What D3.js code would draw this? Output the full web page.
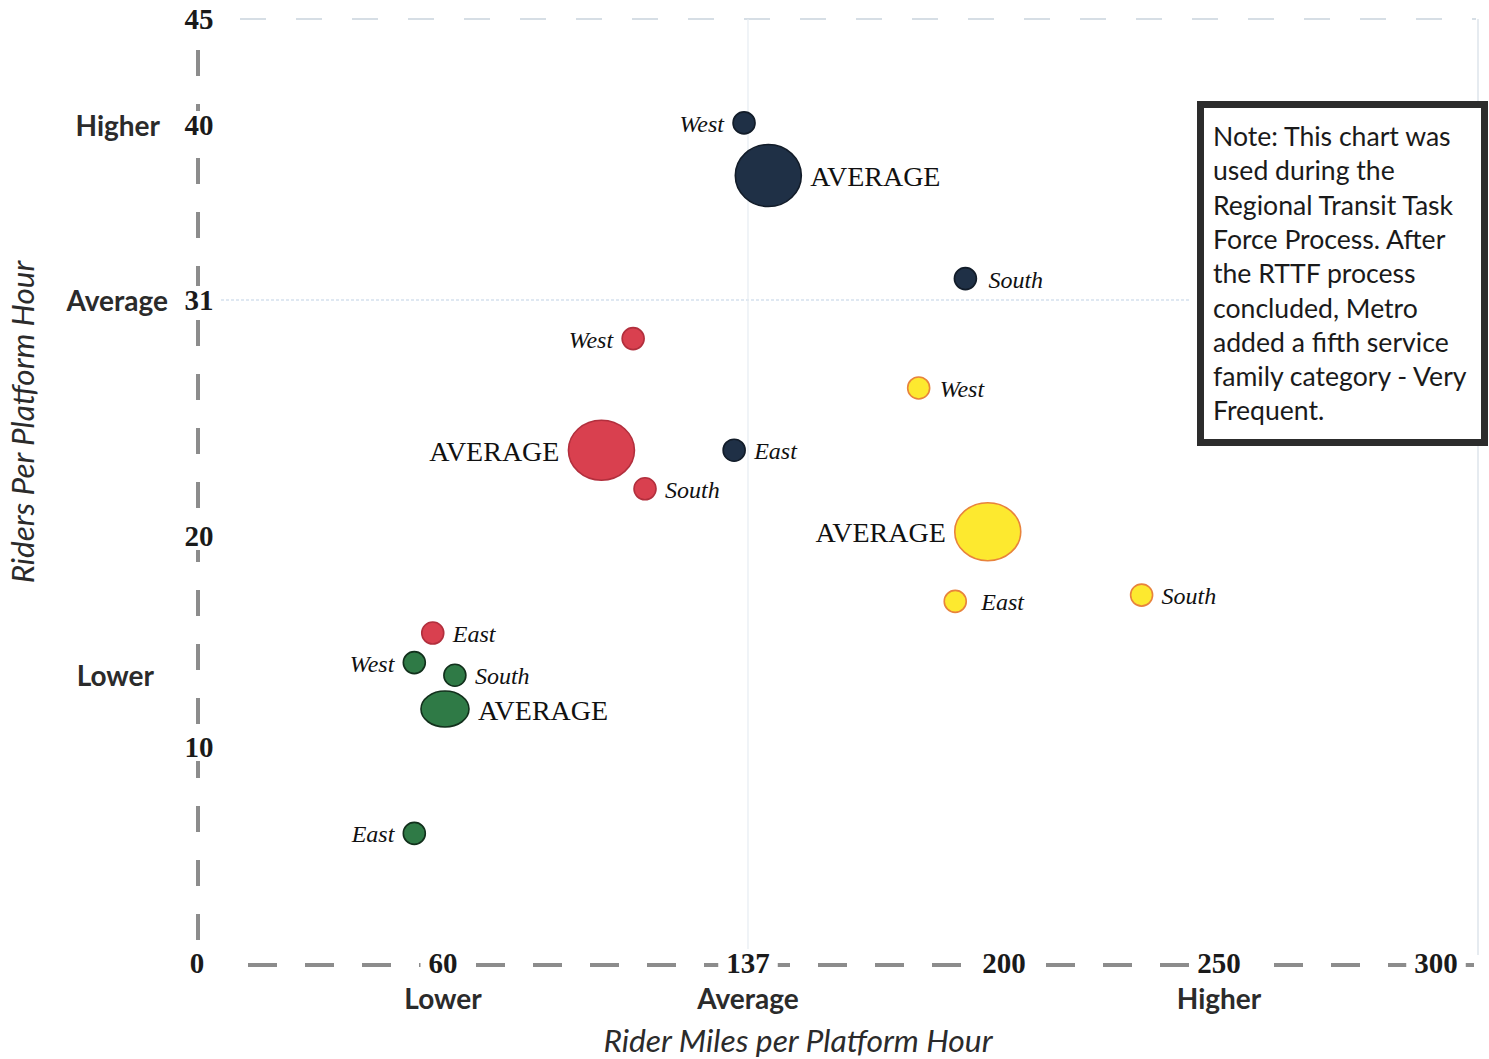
<!DOCTYPE html>
<html>
<head>
<meta charset="utf-8">
<script src="https://cdn.jsdelivr.net/npm/d3@7"></script>
<style>
  html, body { margin: 0; padding: 0; background: #fff; }
  svg { display: block; }
</style>
</head>
<body>
<svg id="chart" width="1489" height="1059"></svg>
<script>
// ---- data ----
const regions = ["West", "AVERAGE", "South", "East"];

const navyMiles   = [136, 142, 190.5, 133.5];
const navyRiders  = [40.1, 37.4, 32.1, 24.0];
const redMiles    = [108, 100, 111, 57.5];
const redRiders   = [29.2, 24.0, 22.2, 15.4];
const yellowMiles = [179, 196, 232, 188];
const yellowRiders= [26.9, 20.2, 17.2, 16.9];
const greenMiles  = [53, 60.5, 63, 53];
const greenRiders = [14.0, 11.8, 13.4, 6.0];

const xTicks = [60, 137, 200, 250, 300];
const yTicks = [45, 40, 31, 20, 10];
const originLabel = "0";
const xLevels = ["Lower", "Average", "Higher"];
const xLevelValues = [60, 137, 250];
const yLevels = ["Higher", "Average", "Lower"];
const yLevelValues = [40, 31, 13.4];

const noteLines = [
  "Note: This chart was",
  "used during the",
  "Regional Transit Task",
  "Force Process. After",
  "the RTTF process",
  "concluded, Metro",
  "added a fifth service",
  "family category - Very",
  "Frequent."
];

// ---- styles ----
const families = [
  { key: "navy",   miles: navyMiles,   riders: navyRiders,   fill: "#1f3046", stroke: "#121c29", avgR: [33, 31],
    side: { West: "L", AVERAGE: "R", South: "R", East: "R" }, extraGap: { South: 3 } },
  { key: "red",    miles: redMiles,    riders: redRiders,    fill: "#d9404f", stroke: "#b22f3d", avgR: [33, 30],
    side: { West: "L", AVERAGE: "L", South: "R", East: "R" }, extraGap: {} },
  { key: "yellow", miles: yellowMiles, riders: yellowRiders, fill: "#fde92f", stroke: "#e8833c", avgR: [33, 29],
    side: { West: "R", AVERAGE: "L", South: "R", East: "R" }, extraGap: { East: 6, West: 1 } },
  { key: "green",  miles: greenMiles,  riders: greenRiders,  fill: "#2f7a46", stroke: "#12301c", avgR: [24, 18],
    side: { West: "L", AVERAGE: "R", South: "R", East: "L" }, extraGap: {} }
];
const smallR = 11;

const svg = d3.select("#chart");

// Axes are drawn with stretched segments, so the scales are piecewise
const x = d3.scaleLinear().domain([0, 60, 137, 200, 250, 300]).range([197, 443, 748, 1004, 1219, 1436]);
const y = d3.scaleLinear().domain([0, 10, 20, 31, 40, 45]).range([963, 747, 536, 300, 125, 19]);

// ---- faint reference lines ----
const faint = svg.append("g").attr("fill", "none");
faint.append("line")
  .attr("x1", 240).attr("x2", 1476).attr("y1", y(45)).attr("y2", y(45))
  .attr("stroke", "#c9d3dd").attr("stroke-width", 1.5).attr("stroke-dasharray", "26,30");
faint.append("line")
  .attr("x1", 1478).attr("x2", 1478).attr("y1", y(45)).attr("y2", 955)
  .attr("stroke", "#d6dee6").attr("stroke-width", 1.2);
faint.append("line")
  .attr("x1", 216).attr("x2", 1190).attr("y1", y(31)).attr("y2", y(31))
  .attr("stroke", "#d5e1ee").attr("stroke-width", 1.5).attr("stroke-dasharray", "3,2");
faint.append("line")
  .attr("x1", x(137)).attr("x2", x(137)).attr("y1", y(45)).attr("y2", 950)
  .attr("stroke", "#e6ecf2").attr("stroke-width", 1.2);

// ---- dashed axes ----
svg.append("line")
  .attr("x1", 198).attr("x2", 198).attr("y1", 940).attr("y2", 32)
  .attr("stroke", "#8c8c8c").attr("stroke-width", 4).attr("stroke-dasharray", "26,28");
svg.append("line")
  .attr("x1", 248).attr("x2", 1476).attr("y1", 965).attr("y2", 965)
  .attr("stroke", "#8c8c8c").attr("stroke-width", 4).attr("stroke-dasharray", "29,28");

// tick labels with white knock-out behind them
function knockLabel(g, tx, ty, txt, pad) {
  const t = g.append("text")
    .attr("x", tx).attr("y", ty)
    .attr("text-anchor", "middle").attr("dominant-baseline", "central")
    .attr("font-family", "'Liberation Serif', 'Times New Roman', serif")
    .attr("font-weight", "bold").attr("font-size", 29).attr("fill", "#1a1a1a")
    .text(txt);
  const b = t.node().getBBox();
  g.insert("rect", "text")
    .attr("x", b.x - pad).attr("y", b.y + 2).attr("width", b.width + 2 * pad).attr("height", b.height - 4)
    .attr("fill", "#fff");
}
const tickG = svg.append("g");
yTicks.forEach(v => knockLabel(tickG, 199, y(v), String(v), 6));
xTicks.forEach(v => knockLabel(tickG, x(v), 963, String(v), 8));
knockLabel(tickG, x(0), y(0), originLabel, 4);

// level words
const sans = "Lato, 'Open Sans', sans-serif";
svg.append("g").selectAll("text").data(yLevels).join("text")
  .attr("x", 168).attr("y", (d, i) => y(yLevelValues[i]))
  .attr("text-anchor", "end").attr("dominant-baseline", "central")
  .attr("font-family", sans).attr("font-weight", "bold").attr("font-size", 28)
  .attr("fill", "#2b2b2b")
  .attr("dx", (d, i) => i === 0 ? -8 : (i === 2 ? -14 : 0))
  .text(d => d);
svg.append("g").selectAll("text").data(xLevels).join("text")
  .attr("x", (d, i) => x(xLevelValues[i])).attr("y", 998)
  .attr("text-anchor", "middle").attr("dominant-baseline", "central")
  .attr("font-family", sans).attr("font-weight", "bold").attr("font-size", 28)
  .attr("fill", "#2b2b2b")
  .text(d => d);

// axis titles
svg.append("text")
  .attr("x", 798).attr("y", 1040)
  .attr("text-anchor", "middle").attr("dominant-baseline", "central")
  .attr("font-family", sans).attr("font-style", "italic").attr("font-size", 31.8)
  .attr("fill", "#2b2b2b")
  .text("Rider Miles per Platform Hour");
svg.append("text")
  .attr("transform", "translate(22,422) rotate(-90)")
  .attr("text-anchor", "middle").attr("dominant-baseline", "central")
  .attr("font-family", sans).attr("font-style", "italic").attr("font-size", 31.5)
  .attr("fill", "#2b2b2b")
  .text("Riders Per Platform Hour");

// ---- bubbles ----
const serif = "'Liberation Serif', 'Times New Roman', serif";
const gap = 9;
families.forEach(f => {
  const pts = regions.map((r, i) => ({ region: r, mx: f.miles[i], ry: f.riders[i] }));
  const g = svg.append("g");
  g.selectAll("ellipse").data(pts).join("ellipse")
    .attr("cx", d => x(d.mx)).attr("cy", d => y(d.ry))
    .attr("rx", d => d.region === "AVERAGE" ? f.avgR[0] : smallR)
    .attr("ry", d => d.region === "AVERAGE" ? f.avgR[1] : smallR)
    .attr("fill", f.fill).attr("stroke", f.stroke).attr("stroke-width", 1.6);
  g.selectAll("text").data(pts).join("text")
    .attr("x", d => {
      const r = d.region === "AVERAGE" ? f.avgR[0] : smallR;
      const off = r + gap + (f.extraGap[d.region] || 0);
      return f.side[d.region] === "L" ? x(d.mx) - off : x(d.mx) + off;
    })
    .attr("y", d => y(d.ry) + 1)
    .attr("text-anchor", d => f.side[d.region] === "L" ? "end" : "start")
    .attr("dominant-baseline", "central")
    .attr("font-family", serif)
    .attr("font-style", d => d.region === "AVERAGE" ? "normal" : "italic")
    .attr("font-size", d => d.region === "AVERAGE" ? 28 : 24)
    .attr("fill", "#111")
    .text(d => d.region);
});

// ---- note box ----
const note = svg.append("g");
note.append("rect")
  .attr("x", 1200.5).attr("y", 104.5).attr("width", 284).attr("height", 338)
  .attr("fill", "#fff").attr("stroke", "#2c2c2c").attr("stroke-width", 7);
note.selectAll("text").data(noteLines).join("text")
  .attr("x", 1213).attr("y", (d, i) => 136 + i * 34.3)
  .attr("dominant-baseline", "central")
  .attr("font-family", sans).attr("font-size", 26.6).attr("fill", "#1a1a1a")
  .text(d => d);
</script>
</body>
</html>
